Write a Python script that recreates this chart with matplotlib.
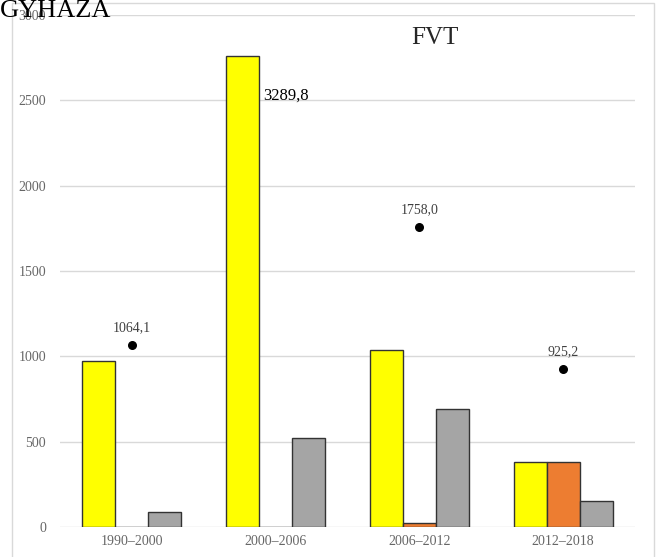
import numpy as np
import matplotlib.pyplot as plt
from matplotlib.patches import Rectangle

periods = ['1990–2000', '2000–2006', '2006–2012', '2012–2018']
yellow_vals = [972, 2760, 1037, 381]
orange_vals = [0, 0, 23, 381]
gray_vals = [88, 521, 691, 152]
dot_vals = [1064.1, 3289.8, 1758.0, 925.2]
dot_labels = ['1064,1', '3289,8', '1758,0', '925,2']

plt.rcParams['font.family'] = ['Liberation Serif', 'DejaVu Serif']

fig = plt.figure(figsize=(6.6, 5.57), dpi=100)
ax = fig.add_axes([60 / 660, 30 / 557, 575 / 660, 512 / 557])

x = np.arange(len(periods))
w = 0.23
ax.bar(x - w, yellow_vals, w, color='#FFFF00', edgecolor='#333333', linewidth=1, zorder=3)
ax.bar(x, orange_vals, w, color='#ED7D31', edgecolor='#333333', linewidth=1, zorder=3)
ax.bar(x + w, gray_vals, w, color='#A5A5A5', edgecolor='#333333', linewidth=1, zorder=3)
ax.scatter(x, dot_vals, s=30, color='black', zorder=4)

for i, (v, lab) in enumerate(zip(dot_vals, dot_labels)):
    if v > 3000:
        # dot sits off the top of the axis, label stays beside the tall bar
        ax.text(i - 0.085, 2530, lab, fontsize=12, color='black', va='center', ha='left')
    else:
        ax.annotate(lab, (i, v), xytext=(0, 8), textcoords='offset points',
                    ha='center', va='bottom', fontsize=10, color='#404040')

ax.set_xlim(-0.5, 3.5)
ax.set_ylim(0, 3000)
ax.set_yticks(range(0, 3001, 500))
ax.set_xticks(x)
ax.set_xticklabels(periods)
ax.tick_params(axis='both', length=0, labelsize=10, colors='#666666')
ax.tick_params(axis='y', pad=10)
ax.tick_params(axis='x', pad=6)
ax.grid(axis='y', color='#d9d9d9', linewidth=1, zorder=0)
for s in ax.spines.values():
    s.set_visible(False)

ax.text(0.652, 0.955, 'FVT', transform=ax.transAxes, fontsize=18, color='#262626',
        ha='center', va='center')

fig.text(0.0, 1.0, 'GYHAZA', fontsize=19, color='black', ha='left', va='top')
fig.patches.append(Rectangle((12 / 660, -0.01), 642 / 660, 1.005, transform=fig.transFigure,
                             fill=False, edgecolor='#d9d9d9', linewidth=1, zorder=0))

fig.savefig('out.png', dpi=100)
